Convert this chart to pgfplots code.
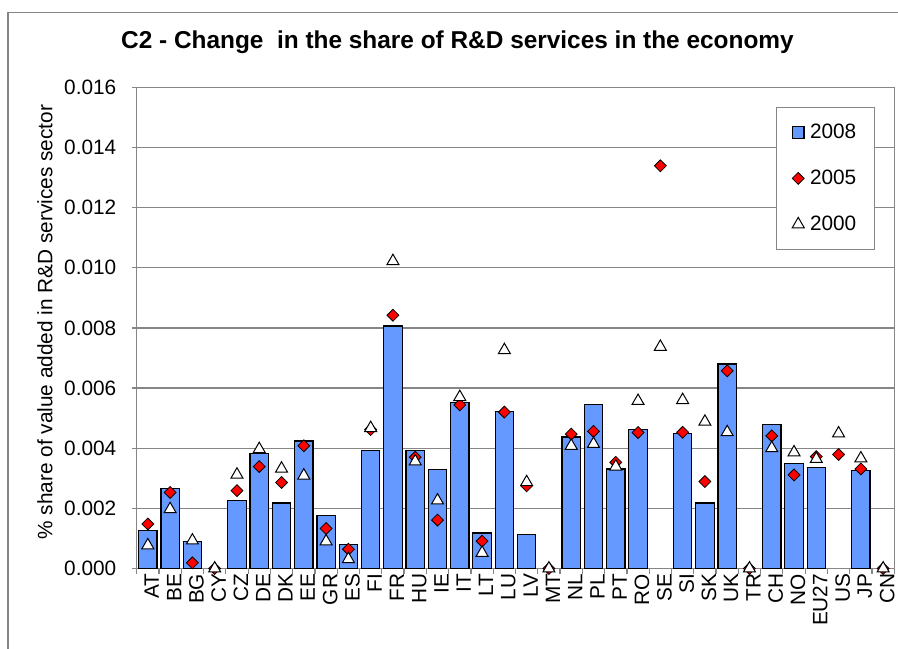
\documentclass[border=0pt]{standalone}
\usepackage{pgfplots}
\pgfplotsset{compat=1.18}
\usepackage{fontspec}
\setmainfont{Liberation Sans}
\definecolor{barblue}{RGB}{102,153,255}
\definecolor{framegray}{RGB}{134,134,134}
% legend images: a small filled square for the bars, a single centred marker for the others
\pgfplotsset{
  barlegend/.style={legend image code/.code={%
    \path[draw=none, fill=none] (0pt,-2.9pt) rectangle (7.3pt,2.9pt);
    \draw[fill=barblue, draw=black, line width=0.6pt] (0pt,-2.9pt) rectangle (5.8pt,2.9pt);}},
  marklegend/.style={legend image code/.code={%
    \path[draw=none, fill=none] (0pt,-2.9pt) rectangle (7.3pt,2.9pt);
    \draw[##1] plot coordinates {(2.9pt,0pt)};}},
}
\begin{document}
\begin{tikzpicture}
\useasboundingbox (0,0) rectangle (449pt,324pt);
% outer chart frame
\draw[framegray, line width=0.6pt] (4pt,-5pt) -- (4pt,317.65pt) -- (460pt,317.65pt);
\begin{axis}[
  at={(68.35pt,39.75pt)}, anchor=south west,
  scale only axis, width=378.8pt, height=240.6pt,
  xmin=-0.5, xmax=33.5, ymin=0, ymax=0.016,
  clip=false,
  font=\fontsize{10.4}{12}\selectfont,
  axis line style={framegray, line width=0.6pt},
  tick align=outside, tick pos=left,
  major tick length=2.5pt,
  tick style={framegray, line width=0.6pt},
  xtick={-0.5,0.5,...,33.5},
  x tick label as interval,
  xticklabels={AT,BE,BG,CY,CZ,DE,DK,EE,GR,ES,FI,FR,HU,IE,IT,LT,LU,LV,MT,NL,PL,PT,RO,SE,SI,SK,UK,TR,CH,NO,EU27,US,JP,CN},
  xticklabel style={rotate=90, anchor=east, inner sep=0pt, yshift=-2pt},
  ytick={0,0.002,0.004,0.006,0.008,0.010,0.012,0.014,0.016},
  scaled y ticks=false,
  /pgf/number format/assume math mode=true,
  yticklabel style={/pgf/number format/fixed, /pgf/number format/fixed zerofill,
    /pgf/number format/precision=3, inner sep=0pt, xshift=-7.5pt},
  ymajorgrids, major grid style={framegray, line width=0.6pt},
  title={C2 - Change\ \ in the share of R\&D services in the economy},
  every axis title/.style={at={(axis description cs:0.4234,1.0811)}, anchor=base, inner sep=0pt,
    font=\bfseries\fontsize{12.2}{14}\selectfont},
  ylabel={\% share of value added in R\&D services sector},
  every axis y label/.style={at={(axis description cs:-0.1210,0.512)}, rotate=90, anchor=center},
  legend cell align=left,
  legend style={at={(rel axis cs:0.8435,0.9597)}, anchor=north west, draw=framegray,
    line width=0.6pt, fill=white, inner xsep=7.75pt, inner ysep=6.7pt, row sep=11.2pt,
    nodes={inner sep=1.5pt}},
]
% value added share in 2008 (bars)
\addplot[ybar, bar width=9.2pt, fill=barblue, draw=black, line width=0.6pt, barlegend]
coordinates {
 (0,0.00127) (1,0.00267) (2,0.00091) (4,0.00227) (5,0.00383) (6,0.00218)
 (7,0.00424) (8,0.00176) (9,0.00079) (10,0.00392) (11,0.00806) (12,0.00392)
 (13,0.00330) (14,0.00552) (15,0.00118) (16,0.00522) (17,0.00113) (19,0.00437)
 (20,0.00544) (21,0.00331) (22,0.00462) (24,0.00449) (25,0.00218) (26,0.00680)
 (28,0.00480) (29,0.00349) (30,0.00337) (32,0.00327)
};
\addlegendentry{2008}
% 2005
\addplot[only marks, mark=square*, mark size=2.1pt,
  mark options={rotate=45, fill=red, draw=black, line width=0.4pt}, marklegend]
coordinates {
 (0,0.00148) (1,0.00253) (2,0.00019) (3,0) (4,0.00259) (5,0.00339) (6,0.00286)
 (7,0.00408) (8,0.00133) (9,0.00064) (10,0.00462) (11,0.00842) (12,0.00370)
 (13,0.00161) (14,0.00544) (15,0.00091) (16,0.00520) (17,0.00275) (18,0)
 (19,0.00447) (20,0.00456) (21,0.00353) (22,0.00452) (23,0.01339) (24,0.00453)
 (25,0.00289) (26,0.00657) (27,0) (28,0.00441) (29,0.00311) (30,0.00372)
 (31,0.00379) (32,0.00331) (33,0)
};
\addlegendentry{2005}
% 2000
\addplot[only marks, mark=triangle*, mark size=3.46pt,
  mark options={fill=white, draw=black, line width=0.5pt}, marklegend]
coordinates {
 (0,0.00077) (1,0.00197) (2,0.00093) (3,0) (4,0.00312) (5,0.00397) (6,0.00332)
 (7,0.00309) (8,0.00090) (9,0.00031) (10,0.00467) (11,0.01022) (12,0.00356)
 (13,0.00226) (14,0.00570) (15,0.00052) (16,0.00726) (17,0.00287) (18,0)
 (19,0.00408) (20,0.00414) (21,0.00339) (22,0.00557) (23,0.00737) (24,0.00560)
 (25,0.00488) (26,0.00453) (27,0) (28,0.00400) (29,0.00386) (30,0.00364)
 (31,0.00449) (32,0.00366) (33,0)
};
\addlegendentry{2000}
\end{axis}
\end{tikzpicture}
\end{document}
